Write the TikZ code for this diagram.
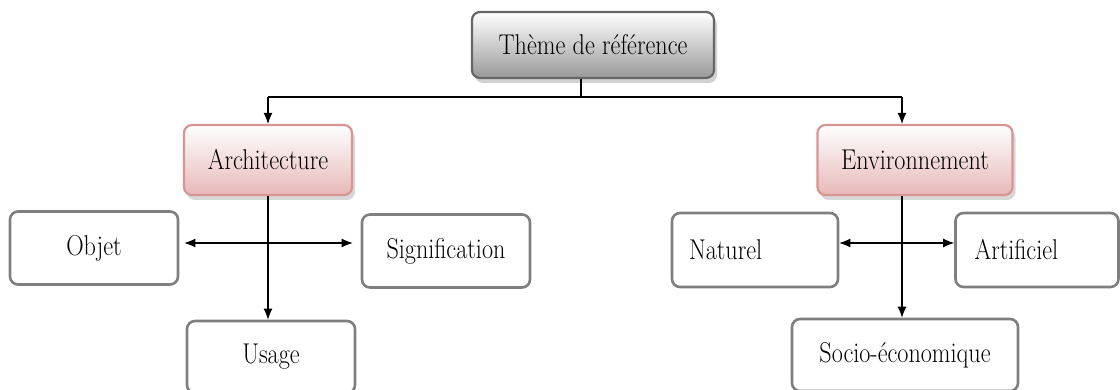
\documentclass[tikz,border=0pt]{standalone}
\usepackage{fontspec}
\setmainfont{Latin Modern Roman}
\usetikzlibrary{arrows.meta,shadows,calc}
\definecolor{pinkb}{HTML}{D99594}
\definecolor{pinkf}{HTML}{E6B9B8}
\definecolor{grayb}{HTML}{7F7F7F}
\newcommand{\lbl}[1]{\scalebox{0.93}[1.1]{#1}}
\tikzset{
  box/.style={draw=grayb, line width=2.6pt, rounded corners=8pt, fill=white, font=\fontsize{26}{30}\selectfont, inner sep=0pt},
  topbox/.style={draw=grayb!80!black, line width=2.2pt, rounded corners=8pt, top color=white, bottom color=black!40, drop shadow={shadow xshift=3pt, shadow yshift=-5pt, fill=black!35}, font=\fontsize{26}{30}\selectfont},
  pinkbox/.style={draw=pinkb, line width=2.2pt, rounded corners=8pt, top color=white, bottom color=pinkf, drop shadow={shadow xshift=3pt, shadow yshift=-5pt, fill=black!30}, font=\fontsize{26}{30}\selectfont},
  conn/.style={line width=1.1pt, black},
  arr/.style={conn, -{Latex[length=11pt,width=9pt]}},
  darr/.style={conn, {Latex[length=11pt,width=9pt]}-{Latex[length=11pt,width=9pt]}},
}
\begin{document}
\begin{tikzpicture}[x=1pt,y=-1pt]
\useasboundingbox (0,0) rectangle (1120,390);
\node[topbox, minimum width=242pt, minimum height=66pt] (top) at (593,45) {\lbl{Thème de référence}};
\node[pinkbox, minimum width=168pt, minimum height=70pt] (arch) at (268,160) {\lbl{Architecture}};
\node[pinkbox, minimum width=195pt, minimum height=70pt] (env) at (915,160) {\lbl{Environnement}};
\node[box, minimum width=168pt, minimum height=73pt] (objet) at (94,248) {\lbl{Objet}};
\node[box, minimum width=168pt, minimum height=73pt] (sig) at (446,251) {\lbl{Signification}};
\node[box, minimum width=168pt, minimum height=72pt] (usage) at (271,357) {\lbl{Usage}};
\node[box, minimum width=166pt, minimum height=74pt, text width=132pt, align=left] (nat) at (755,250) {\lbl{Naturel}};
\node[box, minimum width=163pt, minimum height=74pt, text width=125pt, align=left] (art) at (1037,250) {\lbl{Artificiel}};
\node[box, minimum width=226pt, minimum height=72pt] (socio) at (905,355) {\lbl{Socio-économique}};
\coordinate (jt) at (581,97);
\coordinate (jl) at (268,97);
\coordinate (jr) at (902,97);
\draw[conn] (top.south -| jt) -- (jt);
\draw[conn] (jl) -- (jr);
\draw[arr] (jl) -- (arch.north);
\draw[arr] (jr) -- (jr |- env.north);
\coordinate (ab) at (arch.south);
\draw[arr] (ab) -- (usage.north -| ab);
\draw[darr] ($(objet.east |- 0,243)+(5,0)$) -- ($(sig.west |- 0,243)+(-8,0)$);
\coordinate (eb) at (env.south -| jr);
\draw[arr] (eb) -- (socio.north -| eb);
\draw[darr] (nat.east |- 0,243) -- (art.west |- 0,243);
\end{tikzpicture}
\end{document}
